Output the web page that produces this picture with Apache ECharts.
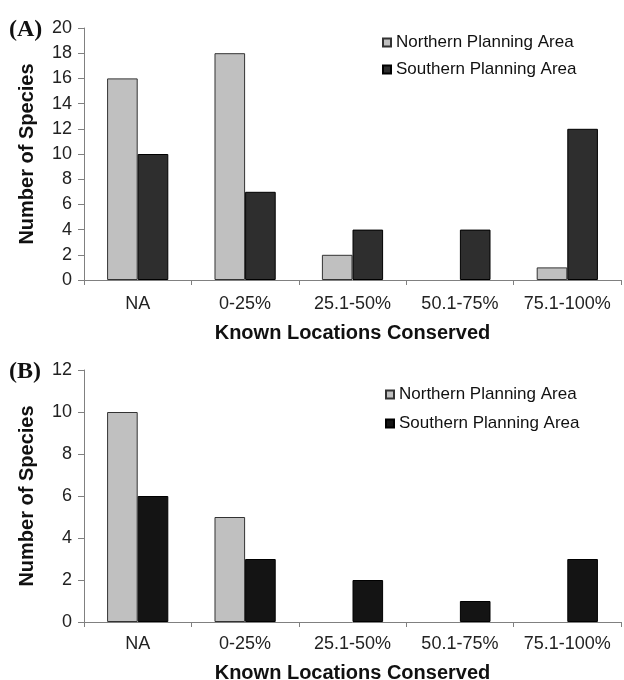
<!DOCTYPE html>
<html>
<head>
<meta charset="utf-8">
<script src="https://cdn.jsdelivr.net/npm/echarts@6/dist/echarts.min.js"></script>
<style>
  html, body { margin: 0; padding: 0; background: #fff; }
  #a { position: absolute; left: 0; top: 0; width: 624px; height: 340px; }
  #b { position: absolute; left: 0; top: 340px; width: 624px; height: 340px; }
</style>
</head>
<body>
<div id="a"></div>
<div id="b"></div>
<script>
var categories = ['NA', '0-25%', '25.1-50%', '50.1-75%', '75.1-100%'];
var seriesNames = ['Northern Planning Area', 'Southern Planning Area'];
var northA = [16, 18, 2, 0, 1];
var southA = [10, 7, 4, 4, 12];
var northB = [10, 5, 0, 0, 0];
var southB = [6, 3, 2, 1, 3];
var yTicksA = { min: 0, max: 20, interval: 2 };
var yTicksB = { min: 0, max: 12, interval: 2 };
var xTitle = 'Known Locations Conserved';
var yTitle = 'Number of Species';

var FONT = '"Liberation Sans", Arial, sans-serif';

function toBarData(arr) {
  // zero-height bars are not drawn (no outline) as in the reference
  return arr.map(function (v) {
    return v === 0 ? { value: 0, itemStyle: { borderWidth: 0, opacity: 0 } } : v;
  });
}

function makeOption(panel, north, south, yTicks, gridTop, gridBottomPx, southColor, labelMargin, nameGap, legendTop, legendLeft, legendGap) {
  return {
    animation: false,
    backgroundColor: '#fff',
    title: {
      text: panel,
      left: 9,
      top: gridTop - 10,
      padding: 0,
      textStyle: { fontFamily: '"Liberation Serif", "Times New Roman", serif', fontWeight: 'bold', fontSize: 24, color: '#111' }
    },
    legend: {
      orient: 'vertical',
      left: legendLeft,
      top: legendTop,
      padding: 0,
      itemWidth: 8,
      itemHeight: 8,
      itemGap: legendGap,
      icon: 'rect',
      textStyle: { fontFamily: FONT, fontSize: 17, color: '#111' },
      data: seriesNames
    },
    grid: { left: 84, right: 3, top: gridTop, height: gridBottomPx - gridTop, outerBoundsMode: 'none', containLabel: false },
    xAxis: {
      type: 'category',
      data: categories,
      axisLine: { lineStyle: { color: '#808080', width: 1 } },
      axisTick: { show: true, interval: 0, length: 5, lineStyle: { color: '#808080' } },
      axisLabel: { interval: 0, fontFamily: FONT, fontSize: 18, color: '#222', margin: labelMargin },
      name: xTitle,
      nameLocation: 'middle',
      nameGap: nameGap,
      nameTextStyle: { fontFamily: FONT, fontSize: 20, fontWeight: 'bold', color: '#111' }
    },
    yAxis: {
      type: 'value',
      min: yTicks.min,
      max: yTicks.max,
      interval: yTicks.interval,
      splitLine: { show: false },
      axisLine: { show: true, lineStyle: { color: '#808080', width: 1 } },
      axisTick: { show: true, length: 6, lineStyle: { color: '#808080' } },
      axisLabel: { fontFamily: FONT, fontSize: 18, color: '#222', margin: 12 },
      name: yTitle,
      nameLocation: 'middle',
      nameRotate: 90,
      nameGap: 47,
      nameTextStyle: { fontFamily: FONT, fontSize: 20, fontWeight: 'bold', color: '#111' }
    },
    series: [
      {
        name: seriesNames[0], type: 'bar', data: toBarData(north),
        barGap: '0%', barCategoryGap: '43%',
        itemStyle: { color: '#c0c0c0', borderColor: '#333', borderWidth: 1 }
      },
      {
        name: seriesNames[1], type: 'bar', data: toBarData(south),
        barGap: '0%', barCategoryGap: '43%',
        itemStyle: { color: southColor, borderColor: '#000', borderWidth: 1 }
      }
    ]
  };
}

var chartA = echarts.init(document.getElementById('a'), null, { renderer: 'canvas' });
chartA.setOption(makeOption('(A)', northA, southA, yTicksA, 28, 280, '#2e2e2e', 15, 43, 34, 382, 10));

var chartB = echarts.init(document.getElementById('b'), null, { renderer: 'canvas' });
chartB.setOption(makeOption('(B)', northB, southB, yTicksB, 30, 282, '#141414', 13, 41, 46, 385, 12));
</script>
</body>
</html>
